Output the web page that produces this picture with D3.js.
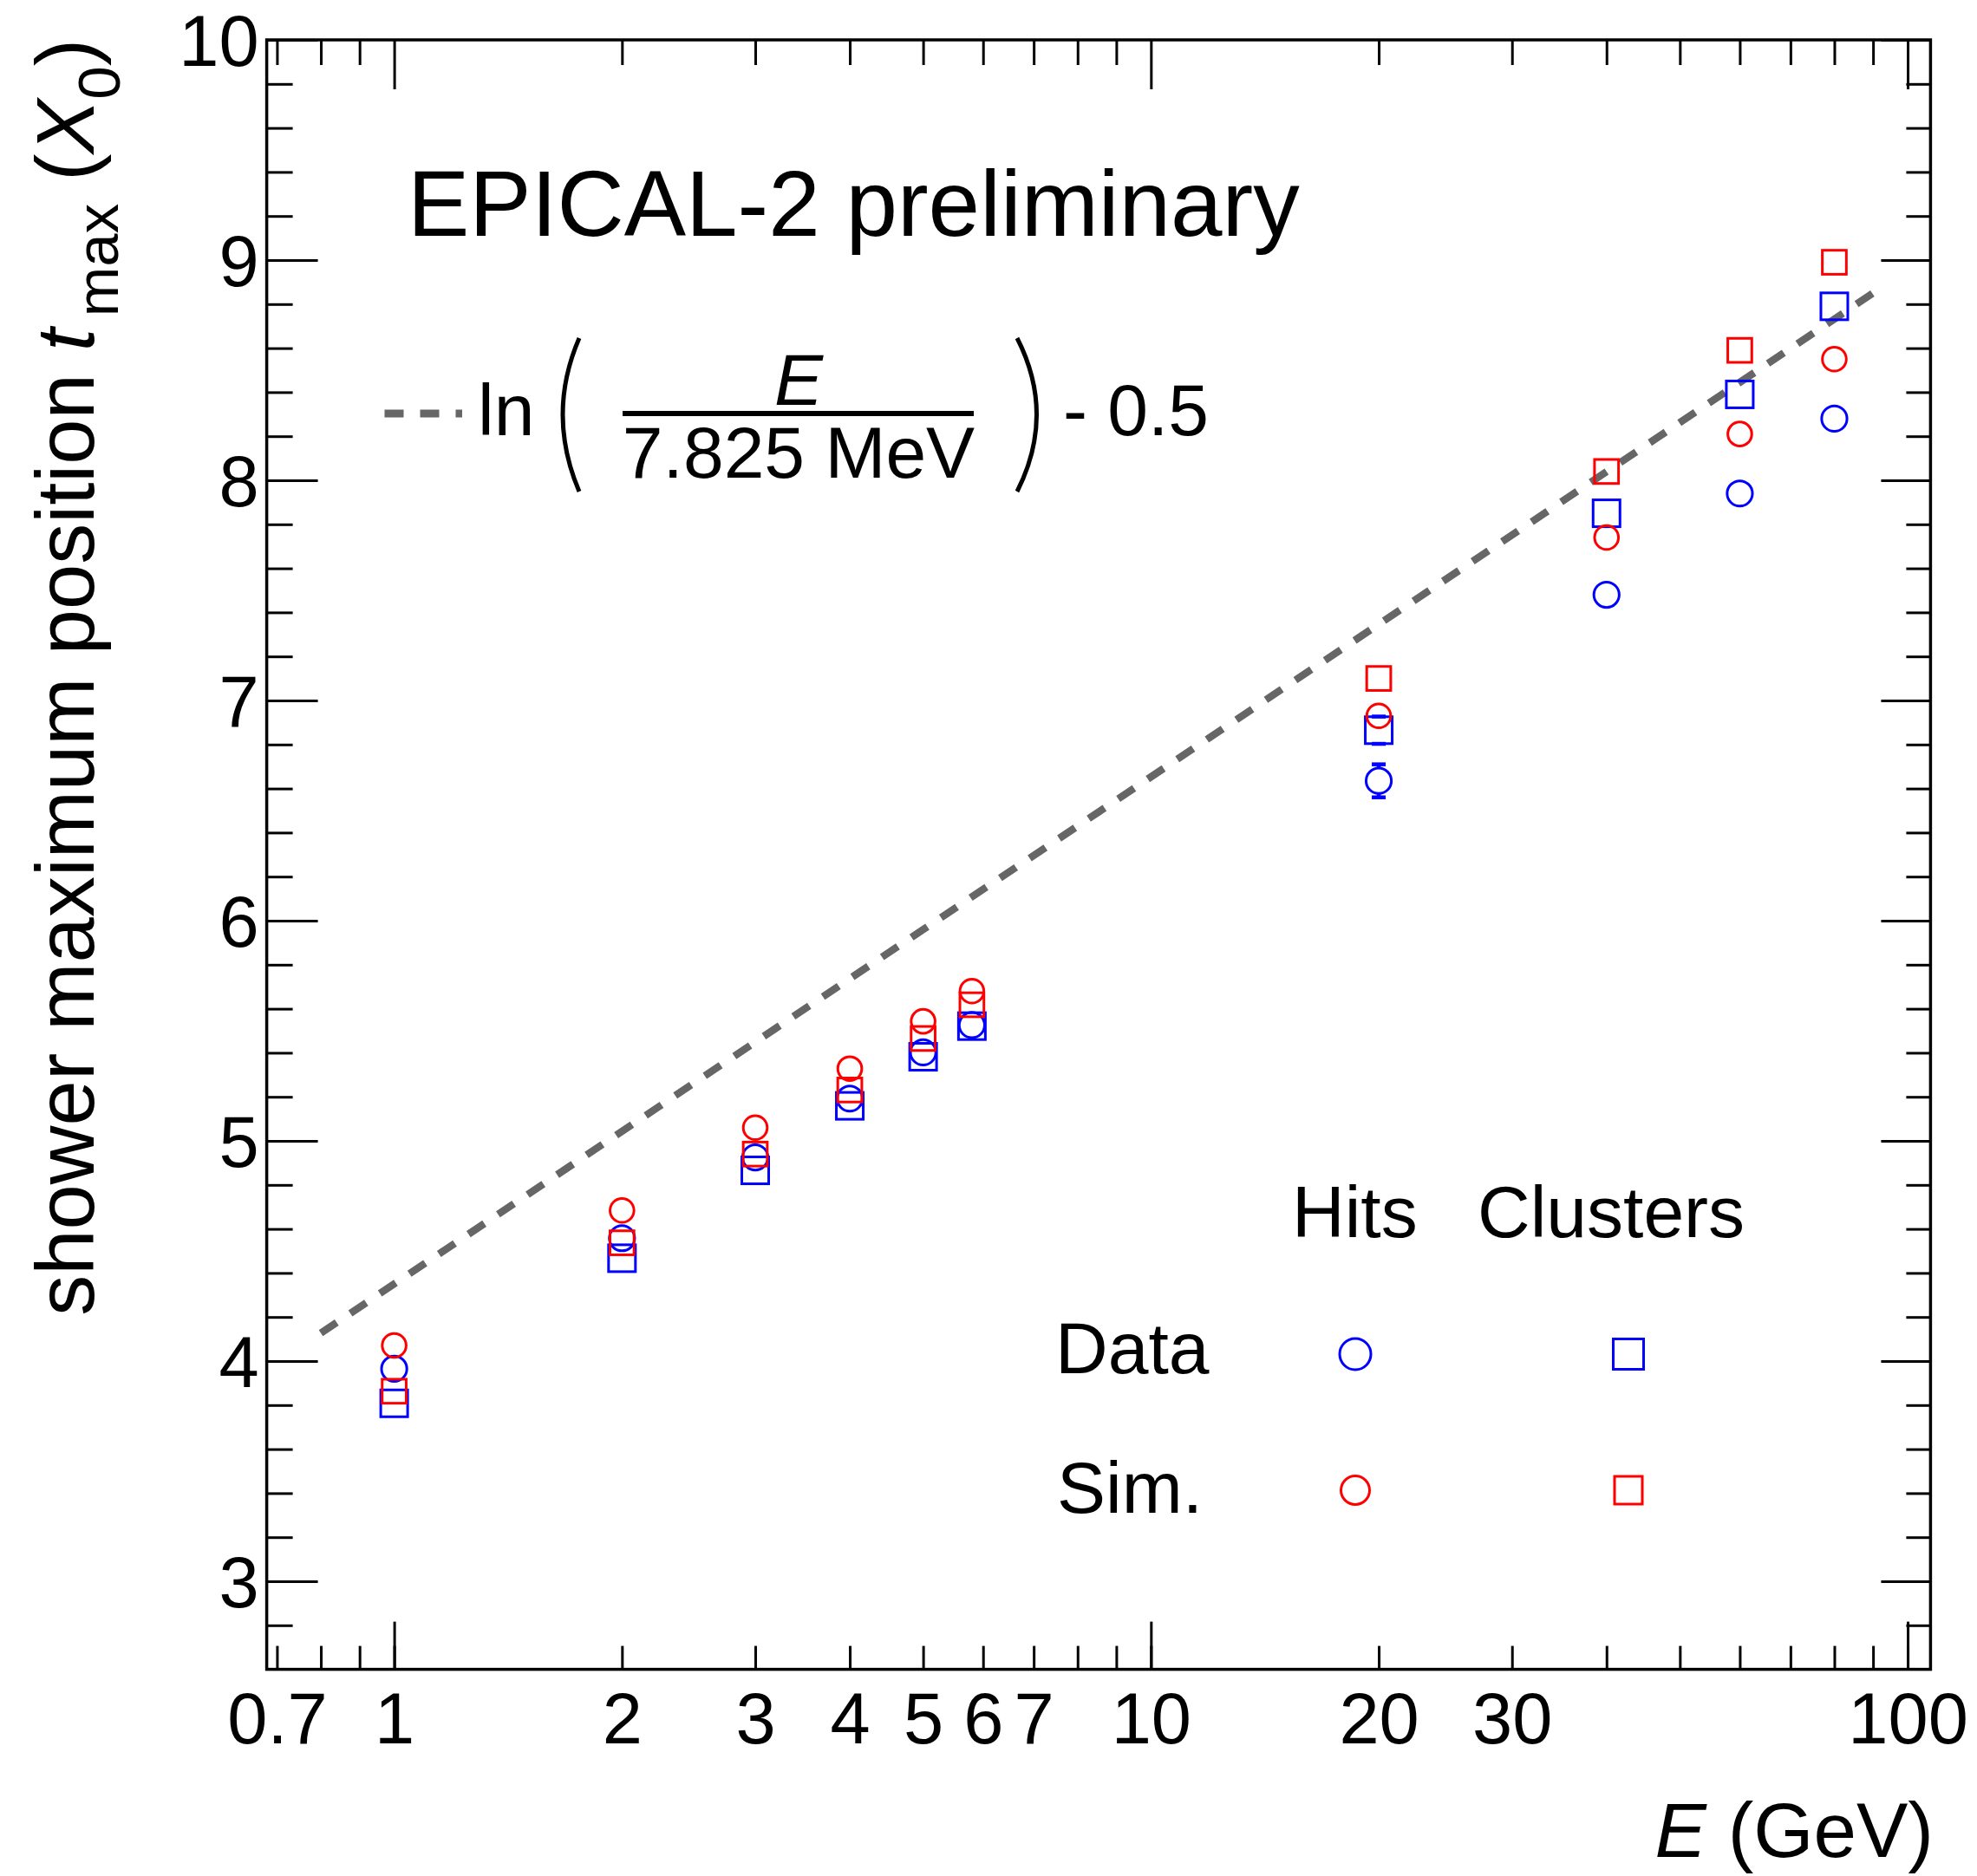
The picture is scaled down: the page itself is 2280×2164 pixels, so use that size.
<!DOCTYPE html>
<html>
<head>
<meta charset="utf-8">
<script src="https://cdn.jsdelivr.net/npm/d3@7"></script>
<style>
  html, body { margin: 0; padding: 0; background: #fff; }
  svg { display: block; font-family: "Liberation Sans", Arial, Helvetica, sans-serif; }
</style>
</head>
<body>
<svg id="chart" width="2280" height="2164"></svg>
<script>
// beam energies (GeV)
const energies = [1, 2, 3, 4, 5, 5.8, 20, 40, 60, 80];

// shower maximum position t_max in X0
const dataHits     = [3.965, 4.558, 4.925, 5.192, 5.402, 5.526, 6.635, 7.48, 7.94, 8.28];
const simHits      = [4.071, 4.684, 5.06, 5.328, 5.543, 5.680, 6.93, 7.74, 8.21, 8.55];
const dataClusters = [3.808, 4.467, 4.866, 5.159, 5.382, 5.521, 6.865, 7.85, 8.39, 8.79];
const simClusters  = [3.863, 4.537, 4.94, 5.231, 5.465, 5.618, 7.10, 8.04, 8.59, 8.99];

// errors on the data (only visible at 20 GeV)
const dataHitsErr     = [0, 0, 0, 0, 0, 0, 0.075, 0, 0, 0];
const dataClustersErr = [0, 0, 0, 0, 0, 0, 0.062, 0, 0, 0];

// ln(E / 7.825 MeV) - 0.5, ends of the drawn range
const lineE = [0.8, 90];
const lineT = [4.127, 8.850];

// ticks
const xMajor = [1, 10, 100];
const xMinor = [0.7, 0.8, 0.9, 2, 3, 4, 5, 6, 7, 8, 9, 20, 30, 40, 50, 60, 70, 80, 90];
const xLabels = [0.7, 1, 2, 3, 4, 5, 6, 7, 10, 20, 30, 100];
const yMajor = [3, 4, 5, 6, 7, 8, 9, 10];
const yMinor = [2.8, 3.2, 3.4, 3.6, 3.8, 4.2, 4.4, 4.6, 4.8, 5.2, 5.4, 5.6, 5.8,
                6.2, 6.4, 6.6, 6.8, 7.2, 7.4, 7.6, 7.8, 8.2, 8.4, 8.6, 8.8,
                9.2, 9.4, 9.6, 9.8];

// frame of the pad
var frameL = 307.6, frameR = 2226.4, frameT = 46, frameB = 1925.6;

var svg = d3.select("#chart");
svg.append("rect").attr("width", 2280).attr("height", 2164).attr("fill", "#fff");

var x = d3.scaleLog().domain([0.6785, 107.2]).range([frameL, frameR]);
var y = d3.scaleLinear().domain([2.6, 10]).range([frameB, frameT]);

var BLUE = "#0000ff", RED = "#ff0000", GRAY = "#666666";
var tickFont = 83;

// bottom axis: minor ticks with labels, then major ticks
var gx = svg.append("g")
  .attr("transform", "translate(0," + frameB + ")")
  .call(d3.axisBottom(x).tickValues(xMinor.concat(xMajor)).tickSize(-27).tickPadding(26)
    .tickFormat(function(d) { return xLabels.indexOf(d) >= 0 ? String(d) : ""; }));
gx.selectAll("text").style("font-size", tickFont + "px").attr("fill", "#000");
svg.append("g")
  .attr("transform", "translate(0," + frameB + ")")
  .call(d3.axisBottom(x).tickValues(xMajor).tickSize(-55).tickFormat(""));

// top axis (mirrored ticks)
svg.append("g")
  .attr("transform", "translate(0," + frameT + ")")
  .call(d3.axisTop(x).tickValues(xMinor).tickSize(-29).tickFormat(""));
svg.append("g")
  .attr("transform", "translate(0," + frameT + ")")
  .call(d3.axisTop(x).tickValues(xMajor).tickSize(-57).tickFormat(""));

// left axis
var gy = svg.append("g")
  .attr("transform", "translate(" + frameL + ",0)")
  .call(d3.axisLeft(y).tickValues(yMajor).tickSize(-59).tickPadding(9).tickFormat(d3.format("d")));
gy.selectAll("text").style("font-size", tickFont + "px").attr("dy", "0.36em").attr("fill", "#000");
svg.append("g")
  .attr("transform", "translate(" + frameL + ",0)")
  .call(d3.axisLeft(y).tickValues(yMinor).tickSize(-30).tickFormat(""));

// right axis (mirrored ticks)
svg.append("g")
  .attr("transform", "translate(" + frameR + ",0)")
  .call(d3.axisRight(y).tickValues(yMajor).tickSize(-57).tickFormat(""));
svg.append("g")
  .attr("transform", "translate(" + frameR + ",0)")
  .call(d3.axisRight(y).tickValues(yMinor).tickSize(-28).tickFormat(""));

svg.selectAll(".domain").remove();
svg.selectAll(".tick line").attr("stroke", "#000").attr("stroke-width", 3);

// frame
svg.append("rect")
  .attr("x", frameL).attr("y", frameT)
  .attr("width", frameR - frameL).attr("height", frameB - frameT)
  .attr("fill", "none").attr("stroke", "#000").attr("stroke-width", 3.5);

// parametrisation line
var lineData = lineE.map(function(e, i) { return [e, lineT[i]]; });
svg.append("path")
  .datum(lineData)
  .attr("d", d3.line().x(function(d) { return x(d[0]); }).y(function(d) { return y(d[1]); }))
  .attr("fill", "none").attr("stroke", GRAY).attr("stroke-width", 8.5)
  .attr("stroke-dasharray", "22,19");

// markers
function pts(vals, errs) {
  return energies.map(function(e, i) { return {e: e, v: vals[i], err: errs ? errs[i] : 0}; });
}

function drawCircles(data, r, color) {
  svg.append("g").selectAll("circle")
    .data(data)
    .enter()
    .append("circle")
      .attr("cx", function(d) { return x(d.e); })
      .attr("cy", function(d) { return y(d.v); })
      .attr("r", r)
      .attr("fill", "none").attr("stroke", color).attr("stroke-width", 3);
}

function drawSquares(data, s, color) {
  svg.append("g").selectAll("rect")
    .data(data)
    .enter()
    .append("rect")
      .attr("x", function(d) { return x(d.e) - s / 2; })
      .attr("y", function(d) { return y(d.v) - s / 2; })
      .attr("width", s).attr("height", s)
      .attr("fill", "none").attr("stroke", color).attr("stroke-width", 3);
}

function drawErrors(data, half, color) {
  var g = svg.append("g").attr("stroke", color).attr("stroke-width", 4.5);
  data.filter(function(d) { return d.err > 0; }).forEach(function(d) {
    var cx = x(d.e), cy = y(d.v), yHi = y(d.v + d.err), yLo = y(d.v - d.err);
    if (cy - half > yHi) g.append("line").attr("x1", cx).attr("x2", cx).attr("y1", yHi).attr("y2", cy - half);
    if (cy + half < yLo) g.append("line").attr("x1", cx).attr("x2", cx).attr("y1", cy + half).attr("y2", yLo);
    [yHi, yLo].forEach(function(yy) {
      g.append("line").attr("x1", cx - 8).attr("x2", cx + 8).attr("y1", yy).attr("y2", yy);
    });
  });
}

drawSquares(pts(dataClusters), 31, BLUE);
drawErrors(pts(dataClusters, dataClustersErr), 15.5, BLUE);
drawCircles(pts(dataHits), 14.6, BLUE);
drawErrors(pts(dataHits, dataHitsErr), 14.6, BLUE);
drawSquares(pts(simClusters), 27.7, RED);
drawCircles(pts(simHits), 13.8, RED);

// title text
svg.append("text")
  .attr("x", 470).attr("y", 272)
  .style("font-size", "107px")
  .text("EPICAL-2 preliminary");

// formula legend
svg.append("line")
  .attr("x1", 443.5).attr("x2", 533).attr("y1", 477).attr("y2", 477)
  .attr("stroke", GRAY).attr("stroke-width", 9).attr("stroke-dasharray", "22,19");
svg.append("text").attr("x", 551).attr("y", 502).style("font-size", "84px").text("ln");
svg.append("path").attr("d", "M668,390 Q630,478 668,567")
  .attr("fill", "none").attr("stroke", "#000").attr("stroke-width", 5);
svg.append("path").attr("d", "M1173,390 Q1218,478 1173,567")
  .attr("fill", "none").attr("stroke", "#000").attr("stroke-width", 5);
svg.append("line").attr("x1", 718).attr("x2", 1123).attr("y1", 477).attr("y2", 477)
  .attr("stroke", "#000").attr("stroke-width", 6);
svg.append("text").attr("x", 921).attr("y", 467).attr("text-anchor", "middle")
  .style("font-size", "84px").style("font-style", "italic").text("E");
svg.append("text").attr("x", 921).attr("y", 551).attr("text-anchor", "middle")
  .style("font-size", "84px").text("7.825 MeV");
svg.append("text").attr("x", 1226).attr("y", 502).style("font-size", "84px").text("- 0.5");

// marker legend
var legFont = "84px";
svg.append("text").attr("x", 1490).attr("y", 1427).style("font-size", legFont).text("Hits");
svg.append("text").attr("x", 1704).attr("y", 1427).style("font-size", legFont).text("Clusters");
svg.append("text").attr("x", 1217).attr("y", 1584).style("font-size", legFont).text("Data");
svg.append("text").attr("x", 1219).attr("y", 1745).style("font-size", legFont).text("Sim.");
svg.append("circle").attr("cx", 1563).attr("cy", 1562).attr("r", 18)
  .attr("fill", "none").attr("stroke", BLUE).attr("stroke-width", 3);
svg.append("circle").attr("cx", 1563).attr("cy", 1719).attr("r", 16.5)
  .attr("fill", "none").attr("stroke", RED).attr("stroke-width", 3);
svg.append("rect").attr("x", 1878 - 17.5).attr("y", 1562 - 17.5).attr("width", 35).attr("height", 35)
  .attr("fill", "none").attr("stroke", BLUE).attr("stroke-width", 3);
svg.append("rect").attr("x", 1878 - 16).attr("y", 1719 - 16).attr("width", 32).attr("height", 32)
  .attr("fill", "none").attr("stroke", RED).attr("stroke-width", 3);

// axis titles
var xt = svg.append("text")
  .attr("x", 2230).attr("y", 2142).attr("text-anchor", "end")
  .style("font-size", "89px");
xt.append("tspan").style("font-style", "italic").text("E");
xt.append("tspan").text(" (GeV)");

var yt = svg.append("text")
  .attr("transform", "translate(108,45) rotate(-90)")
  .attr("text-anchor", "end")
  .style("font-size", "94px");
yt.append("tspan").text("shower maximum position ");
yt.append("tspan").style("font-style", "italic").text("t");
yt.append("tspan").attr("dy", 28).style("font-size", "69px").text("\u2009max");
yt.append("tspan").attr("dy", -28).text(" (");
yt.append("tspan").style("font-style", "italic").text("X");
yt.append("tspan").attr("dy", 30).style("font-size", "69px").text("0");
yt.append("tspan").attr("dy", -30).text(")");
</script>
</body>
</html>
